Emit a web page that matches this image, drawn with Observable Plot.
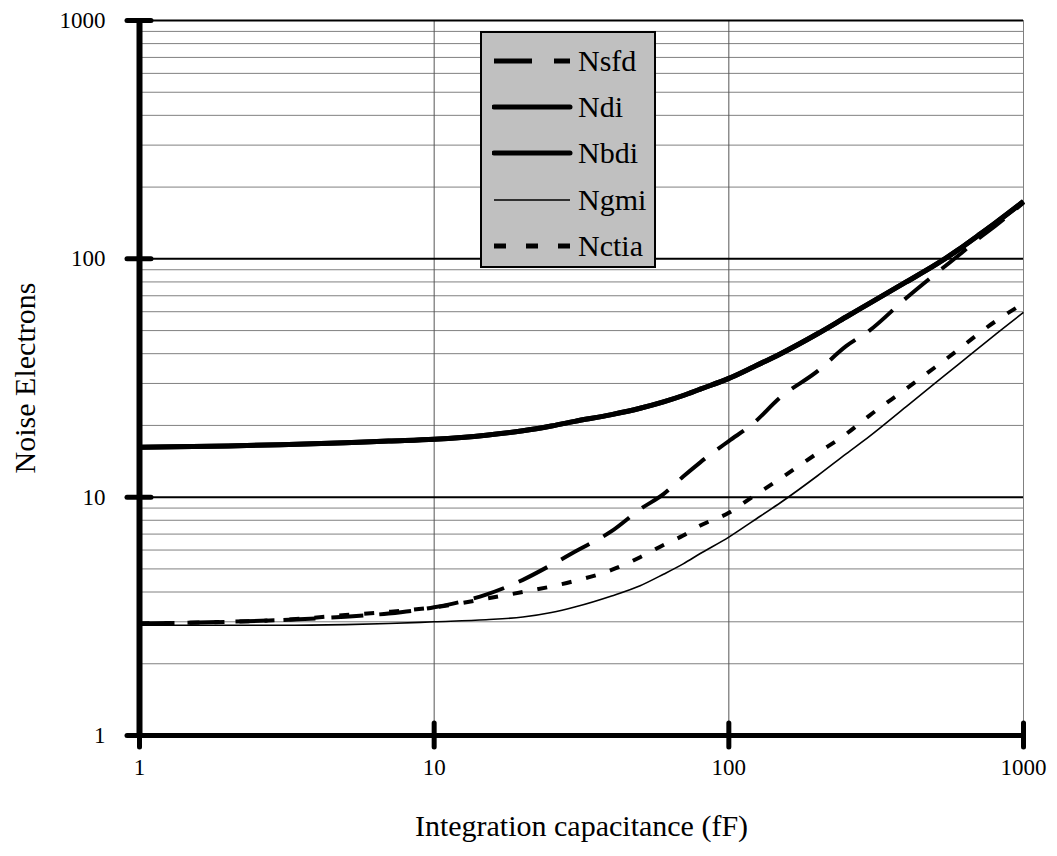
<!DOCTYPE html>
<html>
<head>
<meta charset="utf-8">
<script src="https://cdn.jsdelivr.net/npm/d3@7"></script>
<script src="https://cdn.jsdelivr.net/npm/@observablehq/plot@0.6"></script>
<style>
  html, body { margin: 0; padding: 0; background: #fff; }
  #wrap { position: relative; width: 1057px; height: 856px; font-family: Liberation Serif, serif; }
  #legend { position: absolute; left: 480px; top: 31px; width: 172px; height: 233px; background: #c0c0c0; border: 2px solid #000; }
  .row { position: absolute; left: 0; height: 36px; width: 172px; }
  .row svg { position: absolute; left: 10px; top: 0; }
  .row span { position: absolute; left: 96px; top: 0; font-family: Liberation Serif, serif; font-size: 30px; line-height: 36px; color: #000; }
  #chart svg text { font-family: Liberation Serif, serif; }
</style>
</head>
<body>
<div id="wrap"><div id="chart"></div><div id="legend"></div></div>
<script>
// Integration capacitance (fF)
const cap = [1, 2, 3, 5, 7, 10, 15, 20, 25, 30, 40, 50, 60, 70, 80, 100, 120, 150, 200, 250, 300, 400, 500, 600, 700, 800, 1000];
// Noise electrons per series
const nsfd  = [2.95, 3.0, 3.05, 3.15, 3.25, 3.45, 3.9, 4.5, 5.2, 5.9, 7.2, 8.9, 10.3, 12.2, 14.0, 17.2, 20.2, 26.3, 33.8, 43.0, 50.0, 68.5, 86.0, 103, 121, 137, 172];
const ndi   = [16.2, 16.4, 16.6, 16.9, 17.2, 17.5, 18.2, 19.0, 19.9, 20.8, 22.2, 23.6, 25.1, 26.7, 28.4, 31.5, 35.0, 40.0, 48.5, 57.0, 65.0, 80.0, 94.0, 109, 125, 141, 174];
const nbdi  = [16.2, 16.4, 16.6, 16.9, 17.2, 17.5, 18.2, 19.0, 19.9, 20.8, 22.2, 23.6, 25.1, 26.7, 28.4, 31.5, 35.0, 40.0, 48.5, 57.0, 65.0, 80.0, 94.0, 109, 125, 141, 174];
const ngmi  = [2.9, 2.9, 2.9, 2.92, 2.95, 3.0, 3.06, 3.14, 3.28, 3.46, 3.85, 4.25, 4.75, 5.25, 5.8, 6.8, 7.9, 9.5, 12.3, 15.2, 18.0, 24.0, 30.0, 36.0, 42.0, 48.0, 59.6];
const nctia = [2.95, 3.0, 3.05, 3.2, 3.3, 3.45, 3.75, 4.0, 4.22, 4.45, 4.95, 5.6, 6.3, 6.9, 7.6, 8.6, 10.0, 12.0, 15.3, 18.4, 22.0, 28.5, 35.0, 41.5, 48.3, 54.5, 65.0];

const seriesNames = ["Nsfd", "Ndi", "Nbdi", "Ngmi", "Nctia"];
const xTicks = [1, 10, 100, 1000];
const yTicks = [1, 10, 100, 1000];
const yMinor = [2, 3, 4, 5, 6, 7, 8, 9, 20, 30, 40, 50, 60, 70, 80, 90, 200, 300, 400, 500, 600, 700, 800, 900];
const xGrid = [10, 100];

const styles = {
  Nsfd:  {strokeWidth: 4, strokeDasharray: "32,16"},
  Ndi:   {strokeWidth: 5, strokeDasharray: null},
  Nbdi:  {strokeWidth: 5, strokeDasharray: null},
  Ngmi:  {strokeWidth: 1.6, strokeDasharray: null},
  Nctia: {strokeWidth: 4, strokeDasharray: "10,15"}
};
const values = {Nsfd: nsfd, Ndi: ndi, Nbdi: nbdi, Ngmi: ngmi, Nctia: nctia};

const lineMarks = seriesNames.map(name => {
  const data = cap.map((c, i) => ({c, n: values[name][i]}));
  return Plot.line(data, {x: "c", y: "n", stroke: "#000", curve: "monotone-x",
    strokeWidth: styles[name].strokeWidth, strokeDasharray: styles[name].strokeDasharray, strokeLinecap: "butt"});
});

const chart = Plot.plot({
  width: 1057,
  height: 856,
  marginLeft: 139,
  marginRight: 34,
  marginTop: 20,
  marginBottom: 121,
  style: {fontFamily: "Liberation Serif, serif", color: "#000", background: "#fff", fontSize: "23px"},
  x: {type: "log", domain: [1, 1000]},
  y: {type: "log", domain: [1, 1000]},
  marks: [
    Plot.ruleY(yMinor, {stroke: "#808080", strokeWidth: 1}),
    Plot.ruleX(xGrid, {stroke: "#555", strokeWidth: 1}),
    Plot.ruleX([1000], {stroke: "#808080", strokeWidth: 1}),
    Plot.ruleY(yTicks.slice(1), {stroke: "#000", strokeWidth: 2}),
    ...lineMarks,
    Plot.ruleY([1], {stroke: "#000", strokeWidth: 5}),
    Plot.ruleX([1], {stroke: "#000", strokeWidth: 6}),
    Plot.axisX({ticks: xTicks, tickSize: 24, dy: -12, strokeWidth: 5, strokeLinecap: "round", tickFormat: () => "", label: null}),
    Plot.axisY({ticks: yTicks, tickSize: 24, dx: 12, strokeWidth: 5, strokeLinecap: "round", tickFormat: () => "", label: null}),
    Plot.axisX({ticks: xTicks, tickSize: 0, tickPadding: 23, fontSize: 23, tickFormat: d => String(d), label: null}),
    Plot.axisY({ticks: yTicks, tickSize: 0, tickPadding: 34, fontSize: 23, tickFormat: d => String(d), label: null}),
    Plot.axisX({ticks: [], tickSize: 0, fontSize: 30,
      label: "Integration capacitance (fF)", labelAnchor: "center", labelArrow: "none", labelOffset: 100}),
    Plot.axisY({ticks: [], tickSize: 0, fontSize: 30,
      label: "Noise Electrons", labelAnchor: "center", labelArrow: "none", labelOffset: 126})
  ]
});
document.getElementById("chart").appendChild(chart);

// Legend (HTML overlay)
const legend = document.getElementById("legend");
const rowTops = [10, 56, 102, 149, 195];
seriesNames.forEach((name, i) => {
  const row = document.createElement("div");
  row.className = "row";
  row.style.top = rowTops[i] + "px";
  const ns = "http://www.w3.org/2000/svg";
  const svg = document.createElementNS(ns, "svg");
  svg.setAttribute("width", "82");
  svg.setAttribute("height", "36");
  const ln = document.createElementNS(ns, "line");
  ln.setAttribute("x1", "2"); ln.setAttribute("x2", "78");
  ln.setAttribute("y1", "18"); ln.setAttribute("y2", "18");
  ln.setAttribute("stroke", "#000");
  ln.setAttribute("stroke-width", name === "Ngmi" ? 1.6 : 5);
  ln.setAttribute("stroke-linecap", name === "Ndi" || name === "Nbdi" ? "round" : "butt");
  if (name === "Nsfd") ln.setAttribute("stroke-dasharray", "38,22");
  if (name === "Nctia") ln.setAttribute("stroke-dasharray", "12,20");
  svg.appendChild(ln);
  row.appendChild(svg);
  const sp = document.createElement("span");
  sp.textContent = name;
  row.appendChild(sp);
  legend.appendChild(row);
});
</script>
</body>
</html>
